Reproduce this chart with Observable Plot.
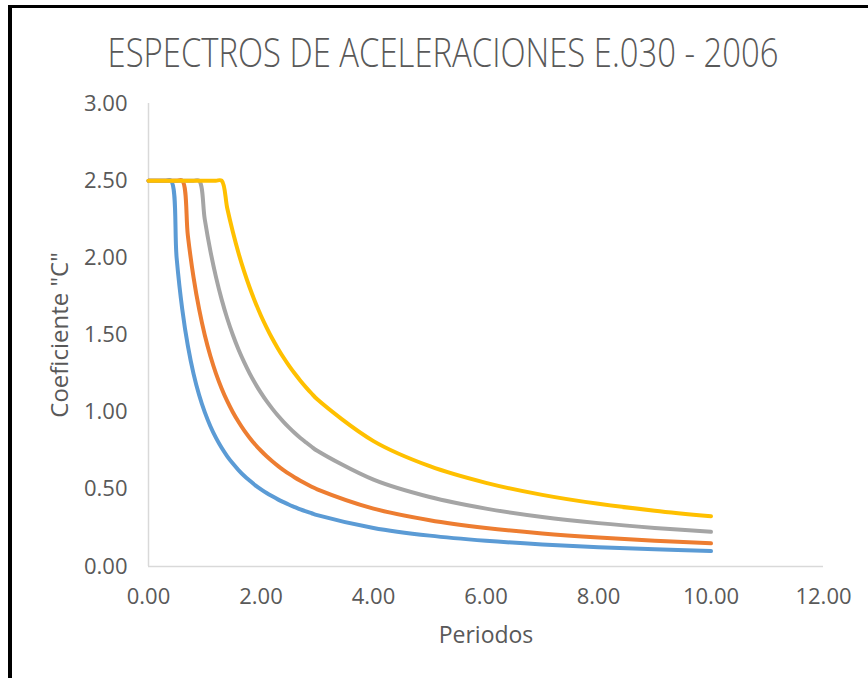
<!DOCTYPE html>
<html>
<head>
<meta charset="utf-8">
<script src="https://cdn.jsdelivr.net/npm/d3@7"></script>
<script src="https://cdn.jsdelivr.net/npm/@observablehq/plot@0.6"></script>
<style>
  html, body { margin: 0; padding: 0; background: #fff; }
  #wrap { position: relative; width: 868px; height: 678px; overflow: hidden; font-family: "Open Sans", sans-serif; }
  #borderL { position: absolute; left: 8px; top: 5px; width: 4px; height: 673px; background: #000; }
  #borderT { position: absolute; left: 8px; top: 5px; width: 860px; height: 3px; background: #000; }
  #chart { position: absolute; left: 0; top: 0; }
  #title { position: absolute; left: 0; top: 0; }
</style>
</head>
<body>
<div id="wrap">
  <div id="chart"></div>
  <svg id="title" width="868" height="100">
    <text transform="translate(443,67) scale(1,1.3)" x="0" y="0" text-anchor="middle" font-family="Open Sans" font-weight="300" font-size="31" fill="#595959" textLength="671" lengthAdjust="spacingAndGlyphs">ESPECTROS DE ACELERACIONES E.030 - 2006</text>
  </svg>
  <div id="borderL"></div>
  <div id="borderT"></div>
</div>
<script>
// Periods (s)
const periods = [0, 0.1, 0.2, 0.3, 0.4, 0.5, 0.6, 0.7, 0.8, 0.9, 1.0, 1.1, 1.2, 1.3, 1.4, 1.5, 1.6, 1.7, 1.8, 1.9, 2.0,
  2.1, 2.2, 2.3, 2.4, 2.5, 2.6, 2.7, 2.8, 2.9, 3.0, 4, 5, 6, 7, 8, 9, 10];

// Coefficient "C" per series
const serieAzul = [2.5, 2.5, 2.5, 2.5, 2.5, 2.0, 1.667, 1.429, 1.25, 1.111, 1.0, 0.909, 0.833, 0.769, 0.714, 0.667, 0.625, 0.588, 0.556, 0.526, 0.5,
  0.476, 0.455, 0.435, 0.417, 0.4, 0.385, 0.370, 0.357, 0.345, 0.333, 0.25, 0.2, 0.167, 0.143, 0.125, 0.111, 0.1];
const serieNaranja = [2.5, 2.5, 2.5, 2.5, 2.5, 2.5, 2.5, 2.143, 1.875, 1.667, 1.5, 1.364, 1.25, 1.154, 1.071, 1.0, 0.938, 0.882, 0.833, 0.789, 0.75,
  0.714, 0.682, 0.652, 0.625, 0.6, 0.577, 0.556, 0.536, 0.517, 0.5, 0.375, 0.3, 0.25, 0.214, 0.1875, 0.167, 0.15];
const serieGris = [2.5, 2.5, 2.5, 2.5, 2.5, 2.5, 2.5, 2.5, 2.5, 2.5, 2.25, 2.045, 1.875, 1.731, 1.607, 1.5, 1.406, 1.324, 1.25, 1.184, 1.125,
  1.071, 1.023, 0.978, 0.9375, 0.9, 0.865, 0.833, 0.804, 0.776, 0.75, 0.5625, 0.45, 0.375, 0.321, 0.281, 0.25, 0.225];
const serieAmarilla = [2.5, 2.5, 2.5, 2.5, 2.5, 2.5, 2.5, 2.5, 2.5, 2.5, 2.5, 2.5, 2.5, 2.5, 2.321, 2.167, 2.031, 1.912, 1.806, 1.711, 1.625,
  1.548, 1.477, 1.413, 1.354, 1.3, 1.25, 1.204, 1.161, 1.121, 1.083, 0.8125, 0.65, 0.542, 0.464, 0.406, 0.361, 0.325];

const seriesNames = ["S1", "S2", "S3", "S4"];
const seriesValues = [serieAzul, serieNaranja, serieGris, serieAmarilla];
const seriesColors = ["#5B9BD5", "#ED7D31", "#A5A5A5", "#FFC000"];

const xTicks = [0, 2, 4, 6, 8, 10, 12];
const yTicks = [0, 0.5, 1, 1.5, 2, 2.5, 3];

const rows = [];
seriesValues.forEach((vals, i) => {
  vals.forEach((v, j) => rows.push({serie: seriesNames[i], T: periods[j], C: v}));
});

const fmt = d3.format(".2f");

const chart = Plot.plot({
  width: 868,
  height: 678,
  marginLeft: 148,
  marginRight: 45,
  marginTop: 103,
  marginBottom: 112,
  style: {fontFamily: "Open Sans", fontSize: "22px", color: "#595959", background: "transparent"},
  x: {domain: [0, 12], ticks: xTicks, tickFormat: fmt, tickSize: 0, tickPadding: 22, label: null},
  y: {domain: [0, 3], ticks: yTicks, tickFormat: fmt, tickSize: 0, tickPadding: 21, label: null},
  color: {domain: seriesNames, range: seriesColors},
  marks: [
    Plot.ruleY([0], {stroke: "#d9d9d9", strokeWidth: 1.5}),
    Plot.ruleX([0], {stroke: "#d9d9d9", strokeWidth: 1.5}),
    Plot.axisX({ticks: xTicks, tickFormat: fmt, tickSize: 0, tickPadding: 22, fill: "#595959", fontSize: 22, label: null}),
    Plot.axisY({ticks: yTicks, tickFormat: fmt, tickSize: 0, tickPadding: 21, fill: "#595959", fontSize: 22, label: null}),
    Plot.line(rows, {x: "T", y: "C", z: "serie", stroke: "serie", strokeWidth: 4, curve: "catmull-rom", strokeLinecap: "round", strokeLinejoin: "round"}),
    Plot.text(["Periodos"], {frameAnchor: "bottom", dy: 76, fill: "#595959", fontSize: 23}),
    Plot.text(['Coeficiente "C"'], {frameAnchor: "left", dx: -88, rotate: -90, textAnchor: "middle", fill: "#595959", fontSize: 24})
  ]
});
document.getElementById("chart").appendChild(chart);
</script>
</body>
</html>
